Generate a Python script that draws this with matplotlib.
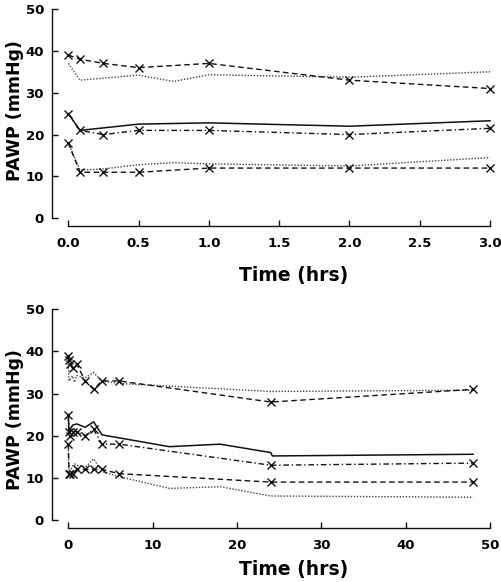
import matplotlib
matplotlib.use("Agg")
import matplotlib.pyplot as plt

plt.rcParams['font.family'] = ['DejaVu Sans']
plt.rcParams['font.weight'] = 'bold'

# ---- data: top panel (0-3 h) ----
p1_obs_t = [0, 0.083, 0.25, 0.5, 1, 2, 3]
p1_obs = [39, 38, 37, 36, 37, 33, 31]
p1_pred_t = [0, 0.083, 0.5, 0.75, 1, 2, 3]
p1_pred = [37, 33, 34.2, 32.7, 34.3, 33.7, 35]

p2_obs_t = [0, 0.083, 0.25, 0.5, 1, 2, 3]
p2_obs = [25, 21, 20, 21, 21, 20, 21.5]
p2_pred_t = [0, 0.083, 0.5, 1, 2, 3]
p2_pred = [25, 21, 22.5, 22.8, 22, 23.3]

p3_obs_t = [0, 0.083, 0.25, 0.5, 1, 2, 3]
p3_obs = [18, 11, 11, 11, 12, 12, 12]
p3_pred_t = [0, 0.083, 0.25, 0.5, 0.75, 1, 2, 3]
p3_pred = [18, 11.5, 11.8, 12.8, 13.3, 13, 12.5, 14.5]

# ---- data: bottom panel (0-48 h) ----
q1_obs_t = [0, 0.083, 0.25, 0.5, 1, 2, 3, 4, 6, 24, 48]
q1_obs = [39, 38, 37, 36, 37, 33, 31, 33, 33, 28, 31]
q1_pred_t = [0, 0.083, 0.5, 0.75, 1, 2, 3, 4, 6, 24, 48]
q1_pred = [37, 33, 34.2, 32.7, 34.3, 33.7, 35, 33, 32.4, 30.5, 30.8]

q2_obs_t = [0, 0.083, 0.25, 0.5, 1, 2, 3, 4, 6, 24, 48]
q2_obs = [25, 21, 20, 21, 21, 20, 21.5, 18, 18, 13, 13.5]
q2_pred_t = [0, 0.083, 0.5, 1, 2, 3, 4, 12, 18, 24, 24.2, 48]
q2_pred = [25, 21, 22.5, 22.8, 22, 23.3, 20.2, 17.4, 18, 16, 15.2, 15.6]

q3_obs_t = [0, 0.083, 0.25, 0.5, 1, 2, 3, 4, 6, 24, 48]
q3_obs = [18, 11, 11, 11, 12, 12, 12, 12, 11, 9, 9]
q3_pred_t = [0, 0.083, 0.25, 0.5, 0.75, 1, 2, 3, 4, 6, 12, 18, 24, 48]
q3_pred = [18, 11.5, 11.8, 12.8, 13.3, 13, 12.5, 14.5, 11.5, 10.3, 7.5, 7.9, 5.7, 5.4]

y_ticks = [0, 10, 20, 30, 40, 50]
top_xticks = [0.0, 0.5, 1.0, 1.5, 2.0, 2.5, 3.0]
bot_xticks = [0, 10, 20, 30, 40, 50]

W, H = 502, 582
fig = plt.figure(figsize=(W / 100, H / 100), dpi=100)

def px_axes(x0, x1, ytop, ybot):
    return fig.add_axes([x0 / W, 1 - ybot / H, (x1 - x0) / W, (ybot - ytop) / H])

ax1 = px_axes(68.3, 490, 9, 218.3)
ax2 = px_axes(68.3, 490, 309.3, 520)

ink = '#111111'
dash = (0, (4, 2.5))
dot = (0, (1, 1.2))
dashdot = (0, (4, 2, 1, 2))

def draw(ax, o1t, o1, p1t, p1, o2t, o2, p2t, p2, o3t, o3, p3t, p3):
    mk = dict(marker='x', markersize=6, markeredgewidth=1.0, color=ink, clip_on=False)
    ax.plot(p1t, p1, linestyle=dot, lw=1.0, color='#444444', clip_on=False)
    ax.plot(o1t, o1, linestyle=dash, lw=1.0, **mk)
    ax.plot(p2t, p2, linestyle='-', lw=1.1, color=ink, clip_on=False)
    ax.plot(o2t, o2, linestyle=dashdot, lw=1.0, **mk)
    ax.plot(p3t, p3, linestyle=dot, lw=1.0, color='#444444', clip_on=False)
    ax.plot(o3t, o3, linestyle=dash, lw=1.0, **mk)

draw(ax1, p1_obs_t, p1_obs, p1_pred_t, p1_pred, p2_obs_t, p2_obs, p2_pred_t, p2_pred,
     p3_obs_t, p3_obs, p3_pred_t, p3_pred)
draw(ax2, q1_obs_t, q1_obs, q1_pred_t, q1_pred, q2_obs_t, q2_obs, q2_pred_t, q2_pred,
     q3_obs_t, q3_obs, q3_pred_t, q3_pred)

for ax, xt, xlim, bout, xlabs in [
        (ax1, top_xticks, (0, 3), 5.3, [f"{v:.1f}" for v in top_xticks]),
        (ax2, bot_xticks, (0, 50), 6.0, [str(v) for v in bot_xticks])]:
    ax.set_xlim(*xlim)
    ax.set_ylim(0, 50)
    ax.spines['top'].set_visible(False)
    ax.spines['right'].set_visible(False)
    ax.spines['left'].set_position(('outward', 12))
    ax.spines['bottom'].set_position(('outward', bout))
    ax.spines['left'].set_bounds(0, 50)
    ax.spines['bottom'].set_bounds(*xlim)
    for s in ('left', 'bottom'):
        ax.spines[s].set_linewidth(1.0)
        ax.spines[s].set_color(ink)
    ax.set_xticks(xt)
    ax.set_xticklabels(xlabs)
    ax.set_yticks(y_ticks)
    ax.tick_params(axis='both', direction='in', length=4.3, width=1.0, color=ink,
                   labelsize=9.5)
    ax.tick_params(axis='y', pad=5.5)
    ax.tick_params(axis='x', pad=8)
    for lab in ax.get_xticklabels() + ax.get_yticklabels():
        lab.set_fontweight('bold')
    ax.patch.set_visible(False)

fig.text(15 / W, 1 - 111 / H, 'PAWP (mmHg)', rotation=90, ha='center', va='center',
         fontsize=12.5, fontweight='bold')
fig.text(15 / W, 1 - 420 / H, 'PAWP (mmHg)', rotation=90, ha='center', va='center',
         fontsize=12.5, fontweight='bold')
fig.text(294 / W, 1 - 276 / H, 'Time (hrs)', ha='center', va='center',
         fontsize=13.5, fontweight='bold')
fig.text(294 / W, 1 - 570 / H, 'Time (hrs)', ha='center', va='center',
         fontsize=13.5, fontweight='bold')

fig.savefig('out.png', dpi=100)
